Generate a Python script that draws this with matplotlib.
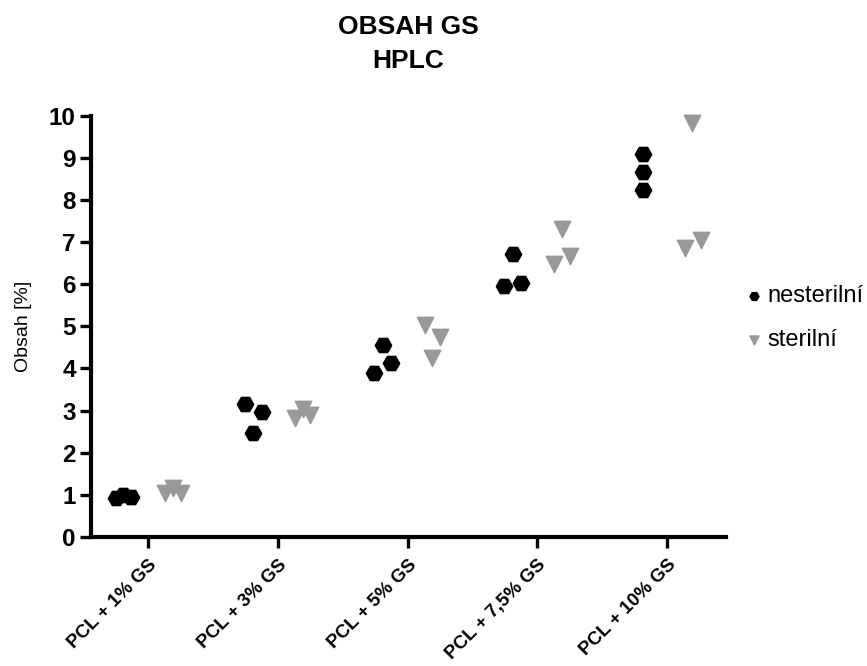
import numpy as np
import matplotlib
matplotlib.use("Agg")
import matplotlib.pyplot as plt

plt.rcParams['font.family'] = ['Liberation Sans', 'DejaVu Sans']

# data
groups = ['PCL + 1% GS', 'PCL + 3% GS', 'PCL + 5% GS', 'PCL + 7,5% GS', 'PCL + 10% GS']
nesterilni = [
    [0.93, 0.99, 0.94],
    [3.15, 2.96, 2.46],
    [4.55, 4.12, 3.89],
    [6.73, 5.95, 6.02],
    [9.10, 8.67, 8.25],
]
sterilni = [
    [1.05, 1.15, 1.03],
    [2.82, 3.03, 2.89],
    [5.02, 4.74, 4.24],
    [7.32, 6.68, 6.49],
    [9.83, 6.87, 7.04],
]

# horizontal scatter of points inside each group (layout only)
jit_nest = [[-0.06, 0.0, 0.06], [-0.06, 0.07, 0.0], [0.0, 0.06, -0.07], [0.0, -0.07, 0.06], [0.0, 0.0, 0.0]]
jit_ster = [[-0.06, 0.0, 0.06], [-0.06, 0.0, 0.06], [-0.06, 0.06, 0.0], [0.0, 0.06, -0.06], [0.0, -0.05, 0.07]]
dodge = 0.19

fig = plt.figure(figsize=(8.67, 6.66), dpi=100)
ax = fig.add_axes([0.105, 0.194, 0.732, 0.632])

for i in range(len(groups)):
    xs = [i - dodge + j for j in jit_nest[i]]
    ax.scatter(xs, nesterilni[i], marker='H', s=140, color='black', zorder=3,
               label='nesterilní' if i == 0 else None, clip_on=False)
    xs = [i + dodge + j for j in jit_ster[i]]
    ax.scatter(xs, sterilni[i], marker='v', s=140, color='#999999', zorder=3,
               label='sterilní' if i == 0 else None, clip_on=False)

ax.set_xlim(-0.44, 4.45)
ax.set_ylim(0, 10)
ax.set_yticks(range(0, 11))
ax.set_xticks(range(len(groups)))
ax.set_xticklabels(groups, rotation=45, ha='right', rotation_mode='anchor',
                   fontsize=13.5, fontweight='bold')
for lab in ax.get_yticklabels():
    lab.set_fontweight('bold')
    lab.set_fontsize(17.5)

for s in ['top', 'right']:
    ax.spines[s].set_visible(False)
for s in ['left', 'bottom']:
    ax.spines[s].set_linewidth(3)
ax.tick_params(axis='both', direction='out', length=8, width=2.4)
ax.tick_params(axis='y', pad=3)
ax.tick_params(axis='x', pad=6)

ax.set_ylabel('Obsah [%]', fontsize=14, labelpad=12)
fig.text(0.471, 1 - 15 / 666, 'OBSAH GS\nHPLC', ha='center', va='top',
         fontsize=19, fontweight='bold', linespacing=1.55)

ax.legend(loc='center left', bbox_to_anchor=(0.99, 0.52), frameon=False,
          fontsize=17, markerscale=0.55, handletextpad=0.05, labelspacing=0.95,
          handlelength=1.1)

fig.savefig('out.png', dpi=100)
